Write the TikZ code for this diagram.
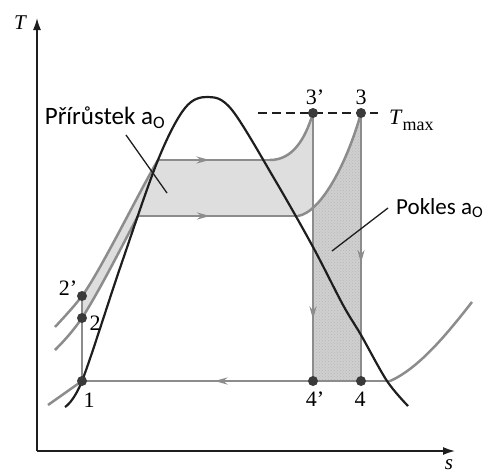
\documentclass[tikz,border=0pt]{standalone}
\usepackage{fontspec}
\setmainfont{Liberation Serif}
\newfontfamily\calloutfont{Carlito}
\usepackage{tikz}
\usetikzlibrary{arrows.meta, positioning, decorations.markings, patterns}
\definecolor{ts-gray}{HTML}{8C8C8C}
\definecolor{ts-dark}{HTML}{1E1E1E}
\definecolor{ts-dot}{HTML}{3A3A3A}
\definecolor{ts-fill}{HTML}{DEDEDE}
\definecolor{ts-fill2}{HTML}{CFCFCF}

\begin{document}
\begin{tikzpicture}[x=1pt, y=-1pt,
  axis/.style={draw=ts-dark, line width=1.5pt, -{Latex[length=12pt,width=8pt]}},
  dome/.style={draw=ts-dark, line width=2.2pt},
  isobar/.style={draw=ts-gray, line width=2.5pt},
  midarrow/.style={postaction={decorate},
    decoration={markings, mark=at position #1 with {\arrow{Stealth[length=13pt,width=7pt]}}}},
  leader/.style={draw=ts-dark, line width=1.3pt},
  numlabel/.style={font=\fontsize{22}{22}\selectfont, inner sep=0pt},
  axislabel/.style={font=\fontsize{21}{21}\selectfont\itshape, inner sep=0pt},
  callout/.style={font=\calloutfont\fontsize{25}{25}\selectfont, inner sep=0pt}
  ]
  \useasboundingbox (0,0) rectangle (489,474);

  % state points
  \coordinate (p1)  at (82,381);
  \coordinate (p2)  at (82,318);
  \coordinate (p2p) at (82,296);
  \coordinate (p3)  at (361,113);
  \coordinate (p3p) at (313,113);
  \coordinate (p4)  at (361,381);
  \coordinate (p4p) at (313,381);
  % isobar corners
  \coordinate (liq1)  at (48,405);
  \coordinate (liq2)  at (55,350);
  \coordinate (liq2p) at (55,327);
  \coordinate (sat2)  at (138,216);
  \coordinate (sup2)  at (298,216);
  \coordinate (sat2p) at (158,160);
  \coordinate (sup2p) at (270,160);
  \coordinate (sat1)  at (390,381);
  \coordinate (vap1)  at (472,302);

  % shaded areas
  \begin{scope}
    \clip (p2) .. controls (100,290) and (125,240) .. (sat2) -- (sup2)
      .. controls (322,212) and (348,160) .. (p3) -- (361,60) -- (60,60) -- (60,318) -- cycle;
    \fill[ts-fill] (p2p) .. controls (100,272) and (140,190) .. (sat2p) -- (sup2p)
      .. controls (292,160) and (305,140) .. (p3p) -- (p4p) -- (p1) -- cycle;
  \end{scope}
  \begin{scope}
    \clip (p2) .. controls (100,290) and (125,240) .. (sat2) -- (sup2)
      .. controls (322,212) and (348,160) .. (p3) -- (p4) -- (p1) -- cycle;
    \fill[ts-fill2] (p4p) rectangle (p3);
    \fill[pattern=crosshatch dots, pattern color=gray!55] (p4p) rectangle (p3);
  \end{scope}

  % isobars
  \draw[isobar] (liq2p) .. controls (68,313) and (76,304) .. (p2p)
    .. controls (100,272) and (140,190) .. (sat2p);
  \draw[isobar, midarrow=0.46] (sat2p) -- (sup2p);
  \draw[isobar] (sup2p) .. controls (292,160) and (305,140) .. (p3p);
  \draw[isobar] (liq2) .. controls (68,337) and (75,328) .. (p2)
    .. controls (100,290) and (125,240) .. (sat2);
  \draw[isobar, midarrow=0.45] (sat2) -- (sup2);
  \draw[isobar] (sup2) .. controls (322,212) and (348,160) .. (p3);
  \draw[isobar] (liq1) -- (p1);
  \draw[isobar, midarrow=0.57] (sat1) -- (p1);
  \draw[isobar] (sat1) .. controls (420,368) and (450,330) .. (vap1);

  % compression and expansion
  \draw[isobar] (p1) -- (p2p);
  \draw[isobar, midarrow=0.77] (p3p) -- (p4p);
  \draw[isobar, midarrow=0.56] (p3) -- (p4);

  % saturation dome
  \draw[dome] plot[smooth, tension=0.55] coordinates {(65,407) (82,381) (120,268) (158,160)
    (185,108) (208,97) (232,110) (275,180) (313,247) (343,305) (361,335) (387,381) (408,406)};

  % axes
  \coordinate (origin) at (37,451);
  \coordinate (ttip) at (37,18);
  \coordinate (stip) at (455,451);
  \draw[axis] (origin) -- (ttip);
  \draw[axis] (origin) -- (stip);
  \node[axislabel] (tlabel) at (20,23) {T};
  \node[axislabel] (slabel) at (449,465) {s};

  % T max
  \coordinate (tmaxfrom) at (258,113);
  \coordinate (tmaxto) at (378,113);
  \draw[draw=ts-dark, line width=1.2pt, dash pattern=on 9pt off 5pt] (tmaxfrom) -- (tmaxto);
  \node[anchor=base west, inner sep=0pt, font=\fontsize{22}{22}\selectfont] (tmax) at (389,124)
    {\textit{T}\raisebox{-6pt}{\fontsize{18}{18}\selectfont max}};

  % points
  \foreach \p in {p1,p2,p2p,p3,p3p,p4,p4p}
    \fill[ts-dot] (\p) circle (5);

  \node[numlabel] at (89,400) {1};
  \node[numlabel] at (95,323) {2};
  \node[numlabel] at (68,288) {2'};
  \node[numlabel] at (315,97) {3'};
  \node[numlabel] at (361,97) {3};
  \node[numlabel] at (315,399) {4'};
  \node[numlabel] at (360,399) {4};

  % callouts
  \coordinate (gaintip) at (167,193);
  \coordinate (losstip) at (332,251);
  \node[callout] (gain) at (105,118) {Přírůstek a\textsubscript{O}};
  \node[callout, anchor=west, font=\calloutfont\fontsize{23}{23}\selectfont] (loss) at (396,208)
    {Pokles a\textsubscript{O}};
  \draw[leader] (gain.south) ++(21,6) -- (gaintip);
  \draw[leader] (loss.west) ++(-8,0) -- (losstip);
\end{tikzpicture}
\end{document}
